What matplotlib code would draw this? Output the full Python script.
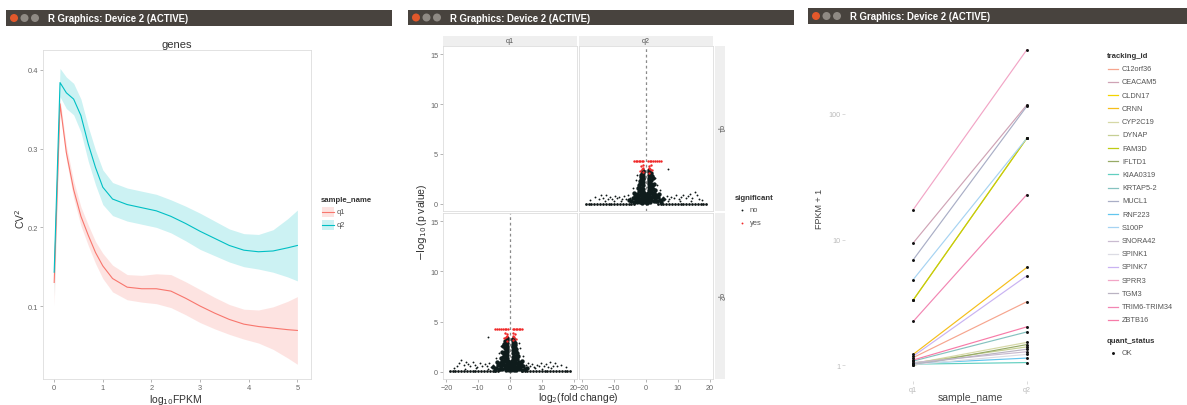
import numpy as np
import matplotlib
matplotlib.use('Agg')
import matplotlib.pyplot as plt
from matplotlib.patches import Rectangle, Circle

plt.rcParams['font.family'] = ['Liberation Sans', 'DejaVu Sans']

W, H = 1187, 406

# ---- window 1: CV^2 against log10 FPKM (smoothed, with bands)
fpkm_x = [0, 0.12, 0.25, 0.4, 0.55, 0.7, 0.85, 1.0, 1.2, 1.5, 1.8, 2.1,
          2.4, 2.7, 3.0, 3.3, 3.6, 3.9, 4.2, 4.5, 4.8, 5.0]
q1_cv2 = [0.130, 0.357, 0.295, 0.248, 0.214, 0.190, 0.168, 0.151, 0.135, 0.124, 0.122, 0.122,
          0.119, 0.110, 0.100, 0.091, 0.083, 0.077, 0.074, 0.072, 0.070, 0.069]
q1_half = [0.030, 0.006, 0.009, 0.011, 0.012, 0.013, 0.014, 0.016, 0.017, 0.016, 0.017, 0.019,
           0.021, 0.021, 0.021, 0.020, 0.019, 0.019, 0.021, 0.027, 0.036, 0.043]
q2_cv2 = [0.143, 0.384, 0.371, 0.363, 0.342, 0.306, 0.276, 0.251, 0.236, 0.229, 0.225, 0.221,
          0.214, 0.205, 0.195, 0.186, 0.177, 0.171, 0.169, 0.170, 0.174, 0.177]
q2_half = [0.030, 0.018, 0.020, 0.020, 0.021, 0.022, 0.022, 0.022, 0.021, 0.021, 0.021, 0.021,
           0.021, 0.022, 0.023, 0.022, 0.021, 0.021, 0.022, 0.027, 0.037, 0.045]
sample_cols = {'q1': '#F8766D', 'q2': '#00BFC4'}

# ---- window 2: volcano (q2 vs q1 fold change; q1 vs q2 is the mirror)
base_x = [-19.0, -18.1, -17.2, -16.3, -15.4, -14.5, -13.6, -12.7, -11.8, -10.9, -10.0, -9.1,
          -8.2, -7.3, -6.4, -5.5, -4.6, -3.7, 3.7, 4.6, 5.5, 6.4, 7.3, 8.2, 9.1, 10.0,
          10.9, 11.8, 12.7, 13.6, 14.5, 15.4, 16.3, 17.2, 18.1, 19.0]
BASE_Y = 0.05
spread_pts = [(-17.6, 0.45), (-16.2, 0.7), (-14.9, 0.55), (-14.1, 0.9), (-13.4, 0.6), (-12.6, 0.95),
              (-12.0, 0.5), (-11.3, 0.75), (-10.6, 0.55), (-9.9, 0.85), (-9.2, 0.6), (-8.4, 0.7),
              (-7.7, 0.5), (-7.0, 0.8), (-6.3, 0.55), (-5.6, 0.9), (-5.0, 0.65), (-13.0, 0.35),
              (-10.2, 0.3), (-8.0, 0.35), (5.2, 0.7), (5.9, 0.5), (6.6, 0.85), (7.3, 0.55),
              (8.0, 0.75), (8.8, 0.6), (9.5, 0.9), (10.3, 0.5), (11.0, 0.7), (11.8, 0.95),
              (12.5, 0.6), (13.2, 0.8), (13.9, 1.0), (14.6, 0.65), (15.3, 1.2), (16.0, 0.9),
              (16.8, 0.55), (17.7, 0.4), (7.0, 0.3), (10.8, 0.35), (14.2, 0.3),
              (6.8, 3.5), (-3.2, 2.4), (3.6, 1.9), (-4.1, 1.6), (4.4, 1.4), (2.9, 2.6), (-2.8, 2.9)]
core_pts = [(-4.6, 0.3), (-4.2, 0.6), (-3.8, 0.2), (-3.5, 0.8), (-3.2, 0.45), (-2.9, 1.0), (-2.7, 0.25),
            (-2.4, 0.6), (-2.3, 1.3), (-2.2, 1.9), (-2.0, 0.2), (-1.9, 0.9), (-1.8, 1.6), (-1.8, 2.3),
            (-1.7, 2.7), (-1.6, 0.5), (-1.5, 1.2), (-1.4, 2.0), (-1.4, 3.0), (-1.3, 0.15), (-1.3, 2.5),
            (-1.2, 0.8), (-1.2, 1.6), (-1.1, 3.3), (-1.0, 2.2), (-0.9, 0.4), (-0.9, 1.2), (-0.9, 2.8),
            (-0.85, 1.9), (-0.7, 0.8), (-0.8, 3.1), (-0.85, 1.5), (-0.85, 2.5), (-0.4, 0.3), (-0.3, 0.8),
            (-0.2, 0.2), (0.2, 0.5), (0.3, 0.15), (0.4, 0.9), (0.85, 1.4), (0.85, 2.6), (0.7, 0.6),
            (0.85, 3.2), (0.9, 2.0), (0.9, 1.0), (0.95, 2.9), (1.0, 0.3), (1.0, 1.7), (1.1, 2.4),
            (1.1, 3.4), (1.2, 1.2), (1.3, 0.7), (1.3, 2.1), (1.4, 2.8), (1.5, 1.6), (1.5, 3.1),
            (1.6, 0.4), (1.7, 2.4), (1.8, 1.1), (1.9, 1.9), (2.0, 0.7), (2.1, 2.6), (2.2, 1.5),
            (2.4, 0.3), (2.5, 1.1), (2.6, 2.0), (2.9, 0.6), (3.2, 0.9), (3.5, 0.3), (3.9, 0.7),
            (4.3, 0.4), (4.7, 0.2),
            (-2.0, 1.5), (-1.9, 2.0), (-1.6, 2.9), (-1.5, 2.4), (-1.4, 0.6), (-1.2, 2.8), (-1.0, 1.0),
            (-1.0, 2.6), (-0.9, 3.3), (-0.6, 0.5), (-0.5, 1.1), (0.5, 1.1), (0.6, 0.3), (1.0, 2.2),
            (1.2, 3.0), (1.3, 1.6), (1.4, 0.2), (1.6, 2.0), (1.7, 1.3), (1.8, 2.8), (2.0, 1.8),
            (2.3, 0.9), (-2.5, 0.9), (-2.1, 0.5), (-3.0, 0.7), (3.0, 0.3), (2.7, 1.4), (-2.6, 1.6),
            (0.1, 0.9), (-0.1, 0.6), (-5.3, 0.4), (5.4, 0.5), (-3.9, 1.1), (4.0, 1.0)]
sig_pts = [(-3.8, 4.3), (-3.3, 4.3), (-2.8, 4.3), (-2.3, 4.3), (-1.8, 4.3), (-1.3, 4.3), (-0.8, 4.3),
           (0.7, 4.3), (1.2, 4.3), (1.7, 4.3), (2.2, 4.3), (2.8, 4.3), (3.4, 4.3), (4.0, 4.3),
           (4.6, 4.3), (-1.5, 3.8), (-1.2, 3.5), (-0.9, 3.9), (-1.1, 3.2), (-0.8, 3.6), (0.9, 3.8),
           (1.2, 3.5), (1.5, 3.9), (1.1, 3.1), (0.8, 3.6), (1.8, 3.4), (-2.0, 3.3)]

# ---- window 3: FPKM + 1 per gene
samples = ['q1', 'q2']
genes = ['C12orf36', 'CEACAM5', 'CLDN17', 'CRNN', 'CYP2C19', 'DYNAP', 'FAM3D', 'IFLTD1',
         'KIAA0319', 'KRTAP5-2', 'MUCL1', 'RNF223', 'S100P', 'SNORA42', 'SPINK1', 'SPINK7',
         'SPRR3', 'TGM3', 'TRIM6-TRIM34', 'ZBTB16']
gene_cols = ['#F6A58E', '#CFA3B5', '#F3D400', '#F5BE1A', '#D6D8A6', '#C6CF94', '#BFCB14', '#97AA66',
             '#62CFC0', '#86C2C0', '#A9AEC6', '#62C6EE', '#A6D3F2', '#C9BBD0', '#DCDCE4', '#C9B3F2',
             '#F2A5C6', '#BAB3C2', '#F286B3', '#F77BA8']
fpkm_q1 = [1.15, 9.4, 3.3, 1.22, 1.03, 1.04, 3.3, 1.0, 1.02, 1.08, 6.9, 1.03, 4.8, 1.05, 1.01,
           1.18, 17.3, 1.02, 2.23, 1.1]
fpkm_q2 = [3.2, 118, 64, 6.0, 1.52, 1.40, 64, 1.46, 1.05, 1.84, 115, 1.14, 64, 1.28, 1.22,
           5.15, 324, 1.34, 22.8, 2.02]

fig = plt.figure(figsize=(W / 100, H / 100), dpi=100)
fig.patch.set_facecolor('white')

ov = fig.add_axes([0, 0, 1, 1])
ov.set_xlim(0, W)
ov.set_ylim(H, 0)
ov.axis('off')


def px_axes(l, t, r, b):
    return fig.add_axes([l / W, 1 - b / H, (r - l) / W, (b - t) / H])


def title_bar(x0, x1, y0, y1):
    ov.add_patch(Rectangle((x0, y0), x1 - x0, y1 - y0, color='#48433e', lw=0))
    cy = (y0 + y1) / 2
    for i, c in enumerate(['#e2582b', '#8f8a84', '#8f8a84']):
        ov.add_patch(Circle((x0 + 8 + i * 10.5, cy), 4, color=c, lw=0))
    ov.text(x0 + 42, cy + 0.5, 'R Graphics: Device 2 (ACTIVE)', color='white',
            fontweight='bold', fontsize=6.9, va='center', ha='left')


def style_ticks(ax, col='#666666', size=5.4):
    ax.tick_params(length=2, width=0.5, color='#999999', labelsize=size,
                   labelcolor=col, pad=1.5)


title_bar(6, 392, 11, 27)
title_bar(408, 794, 11, 26)
title_bar(808, W, 9, 25)

# ---------- window 1
ax1 = px_axes(43, 51, 311, 380)
for name, y, h in [('q1', q1_cv2, q1_half), ('q2', q2_cv2, q2_half)]:
    y = np.array(y)
    h = np.array(h)
    ax1.fill_between(fpkm_x, y - h, y + h, color=sample_cols[name], alpha=0.2, lw=0)
    ax1.plot(fpkm_x, y, color=sample_cols[name], lw=0.8)
ax1.set_xlim(-0.23, 5.28)
ax1.set_ylim(0.0073, 0.4254)
ax1.set_xticks([0, 1, 2, 3, 4, 5])
ax1.set_yticks([0.1, 0.2, 0.3, 0.4])
ax1.set_yticklabels(['0.1', '0.2', '0.3', '0.4'])
style_ticks(ax1)
for s in ax1.spines.values():
    s.set_color('#DDDDDD')
    s.set_linewidth(0.6)
ax1.set_title('genes', fontsize=8, color='#333333', pad=2)
ax1.set_ylabel('CV$^2$', fontsize=7.5, color='#333333', va='center')
ax1.yaxis.set_label_coords(-0.086, 0.49)
ax1.set_xlabel('log$_{10}$FPKM', fontsize=7.5, color='#333333', va='center')
ax1.xaxis.set_label_coords(0.496, -0.06)

ov.text(321, 201, 'sample_name', fontweight='bold', fontsize=5.6, color='#333333', va='center')
for i, name in enumerate(samples):
    yy = 213 + 13 * i
    ov.add_patch(Rectangle((322, yy - 5), 12, 10, color=sample_cols[name], alpha=0.2, lw=0))
    ov.plot([322, 334], [yy, yy], color=sample_cols[name], lw=0.8)
    ov.text(337, yy, name, fontsize=5.4, color='#555555', va='center')

# ---------- window 2
core_x, core_y = zip(*core_pts)
spread_x, spread_y = zip(*spread_pts)
sig_x, sig_y = zip(*sig_pts)
boxes = {(0, 0): (443, 47, 577, 212), (0, 1): (579, 47, 713, 212),
         (1, 0): (443, 214, 577, 380), (1, 1): (579, 214, 713, 380)}
for (r, c), bx in boxes.items():
    ax = px_axes(*bx)
    ax.set_xlim(-21.1, 21.1)
    ax.set_ylim(-0.7, 15.8)
    if r != c:
        sign = 1 if (r, c) == (0, 1) else -1
        ax.axvline(0, color='#8a8a8a', lw=0.9, ls=(0, (2.2, 2.2)), zorder=1)
        ax.scatter([sign * v for v in base_x], [BASE_Y] * len(base_x), s=4, color='#101818',
                   lw=0, zorder=2)
        ax.scatter([sign * v for v in spread_x], spread_y, s=1.8, color='#101818', lw=0, zorder=2)
        ax.scatter([sign * v for v in core_x], core_y, s=10, color='#0f1c1c', lw=0, zorder=2)
        ax.scatter([sign * v for v in sig_x], sig_y, s=3, color='#F02828', lw=0, zorder=3)
    ax.set_xticks([-20, -10, 0, 10, 20])
    ax.set_yticks([0, 5, 10, 15])
    style_ticks(ax, size=5.2)
    if c == 1:
        ax.tick_params(axis='y', left=False, labelleft=False)
    if r == 0:
        ax.tick_params(axis='x', bottom=False, labelbottom=False)
    for s in ax.spines.values():
        s.set_color('#DDDDDD')
        s.set_linewidth(0.6)

for (l, r_), lab in [((443, 577), 'q1'), ((579, 713), 'q2')]:
    ov.add_patch(Rectangle((l, 37), r_ - l, 9.5, color='#EFEFEF', lw=0))
    ov.text((l + r_) / 2, 41.8, lab, fontsize=5.2, color='#555555', ha='center', va='center')
for (t, b), lab in [((47, 212), 'q1'), ((214, 380), 'q2')]:
    ov.add_patch(Rectangle((715, t), 10, b - t, color='#EFEFEF', lw=0))
    ov.text(720, (t + b) / 2, lab, fontsize=5.2, color='#555555', ha='center', va='center',
            rotation=-90)

ov.text(422, 222, r'$-\log_{10}$(p value)', fontsize=7.5, color='#333333', rotation=90,
        ha='center', va='center')
ov.text(578, 398, r'log$_2$(fold change)', fontsize=7.5, color='#333333', ha='center', va='center')

ov.text(735, 199, 'significant', fontweight='bold', fontsize=5.6, color='#333333', va='center')
for i, (lab, col) in enumerate([('no', '#101818'), ('yes', '#F02828')]):
    yy = 211 + 13 * i
    ov.scatter([742], [yy], s=1.8, color=col, lw=0)
    ov.text(750, yy, lab, fontsize=5.4, color='#555555', va='center')

# ---------- window 3
ax3 = px_axes(845, 35, 1095, 382)
for g, col, a, b in zip(genes, gene_cols, fpkm_q1, fpkm_q2):
    ax3.plot(samples, [a, b], color=col, lw=0.85, zorder=2)
ax3.scatter(samples * len(genes), [v for pair in zip(fpkm_q1, fpkm_q2) for v in pair],
            s=4.5, color='#111111', lw=0, zorder=3)
ax3.set_yscale('log')
ax3.set_ylim(10 ** -0.1255, 10 ** 2.636)
ax3.set_xlim(-0.6, 1.6)
ax3.set_yticks([1, 10, 100])
ax3.set_yticklabels(['1', '10', '100'])
ax3.minorticks_off()
style_ticks(ax3, col='#BBBBBB', size=5.2)
ax3.tick_params(color='#CCCCCC')
for s in ax3.spines.values():
    s.set_visible(False)
ax3.set_ylabel('FPKM + 1', fontsize=6.5, color='#444444', va='center')
ax3.yaxis.set_label_coords(-0.1, 0.4986)
ax3.set_xlabel('sample_name', fontsize=7.5, color='#444444', va='center')
ax3.xaxis.set_label_coords(0.5, -0.046)

ov.text(1107, 57, 'tracking_id', fontweight='bold', fontsize=5.6, color='#333333', va='center')
for i, (g, col) in enumerate(zip(genes, gene_cols)):
    yy = 69.7 + 13.22 * i
    ov.plot([1108, 1118], [yy, yy], color=col, lw=0.9)
    ov.text(1122, yy, g, fontsize=5.3, color='#555555', va='center')
ov.text(1107, 342, 'quant_status', fontweight='bold', fontsize=5.6, color='#333333', va='center')
ov.scatter([1113], [354], s=4.5, color='#111111', lw=0)
ov.text(1122, 354, 'OK', fontsize=5.3, color='#555555', va='center')

fig.savefig('out.png', dpi=100)
